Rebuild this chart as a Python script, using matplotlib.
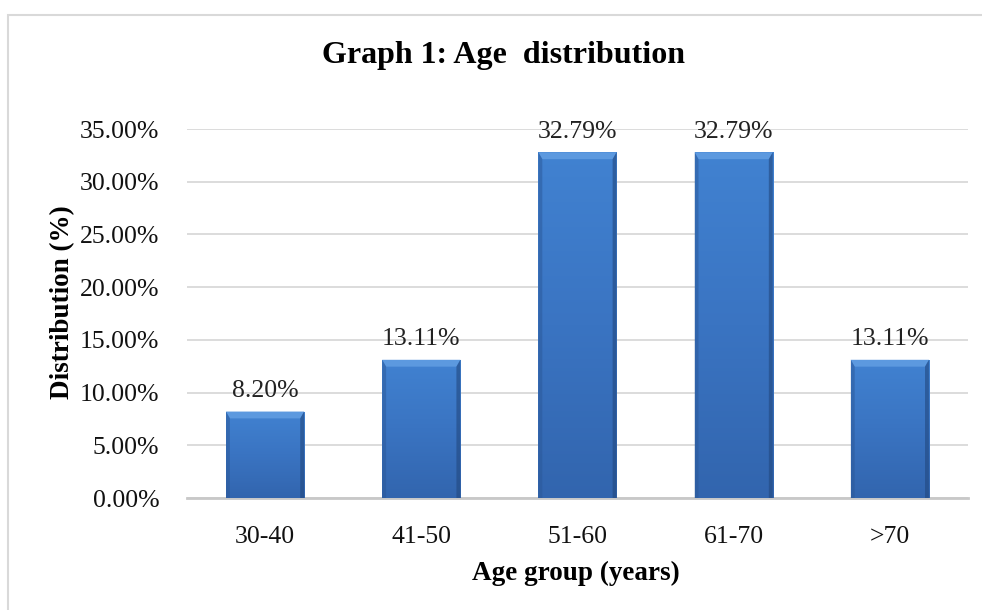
import numpy as np
import matplotlib.pyplot as plt
from matplotlib.patches import Rectangle, Polygon
from matplotlib.colors import LinearSegmentedColormap

plt.rcParams['font.family'] = ['Liberation Serif', 'DejaVu Serif']

age_groups = ['30-40', '41-50', '51-60', '61-70', '>70']
distribution = [8.20, 13.11, 32.79, 32.79, 13.11]
y_ticks = [0, 5, 10, 15, 20, 25, 30, 35]

fig = plt.figure(figsize=(9.82, 6.10), dpi=100)
ax = fig.add_axes([0.1904, 0.1836, 0.7953, 0.6049])

# outer chart frame
fig.patches.append(Rectangle((8 / 982, -0.05), 1.2, 1 - 15 / 610 + 0.05,
                             transform=fig.transFigure, fill=False,
                             edgecolor='#D9D9D9', linewidth=1.5))

x = np.arange(len(age_groups))
bars = ax.bar(x, distribution, width=0.5, color='#3B76C4', zorder=3)

# bevelled look: vertical shading plus lighter top edge, darker sides
shade = LinearSegmentedColormap.from_list('shade', ['#3265AE', '#3A74C2', '#4182D1'])
grad = np.linspace(0, 1, 256).reshape(-1, 1)
for b in bars:
    x0, w, h = b.get_x(), b.get_width(), b.get_height()
    im = ax.imshow(grad, cmap=shade, aspect='auto', zorder=3, origin='lower',
                   extent=(x0, x0 + w, 0, h), interpolation='bicubic')
    im.set_clip_path(b)
    bev_x = w * 0.05
    bev_y = 0.65
    ax.add_patch(Polygon([(x0, h), (x0 + w, h), (x0 + w - bev_x, h - bev_y),
                          (x0 + bev_x, h - bev_y)],
                         closed=True, facecolor='#5C99DF', edgecolor='none',
                         zorder=4))
    ax.add_patch(Polygon([(x0, h), (x0 + bev_x, h - bev_y), (x0 + bev_x, 0),
                          (x0, 0)], closed=True, facecolor='#2B5898',
                         edgecolor='none', alpha=0.5, zorder=4))
    ax.add_patch(Polygon([(x0 + w, h), (x0 + w - bev_x, h - bev_y),
                          (x0 + w - bev_x, 0), (x0 + w, 0)], closed=True,
                         facecolor='#22487F', edgecolor='none', alpha=0.6,
                         zorder=4))
    ax.annotate(f'{h:.2f}%', (x0 + w / 2, h), xytext=(0, 7),
                textcoords='offset points', ha='center', va='bottom',
                fontsize=18.5, color='#222222', zorder=5)

ax.set_xlim(-0.5, len(age_groups) - 0.5)
ax.set_ylim(0, 35)
ax.set_yticks(y_ticks)
ax.set_yticklabels([f'{v:.2f}%' for v in y_ticks])
ax.set_xticks(x)
ax.set_xticklabels(age_groups)
ax.tick_params(axis='both', length=0, labelsize=18.5, colors='#111111')
ax.tick_params(axis='y', pad=20)
ax.tick_params(axis='x', pad=20)

ax.grid(axis='y', color='#D9D9D9', linewidth=1.3, zorder=0)
ax.set_axisbelow(True)
for side in ['top', 'right', 'left']:
    ax.spines[side].set_visible(False)
ax.spines['bottom'].set_color('#C8C8C8')
ax.spines['bottom'].set_linewidth(2)

fig.text(503 / 982, 1 - 55 / 610, 'Graph 1: Age  distribution',
         ha='center', va='center', fontsize=23, fontweight='bold')
fig.text(576 / 982, 1 - 573 / 610, 'Age group (years)',
         ha='center', va='center', fontsize=19.5, fontweight='bold')
fig.text(63 / 982, 1 - 302 / 610, 'Distribution (%)', rotation=90,
         ha='center', va='center', fontsize=19.5, fontweight='bold')

fig.savefig('out.png', dpi=100)
